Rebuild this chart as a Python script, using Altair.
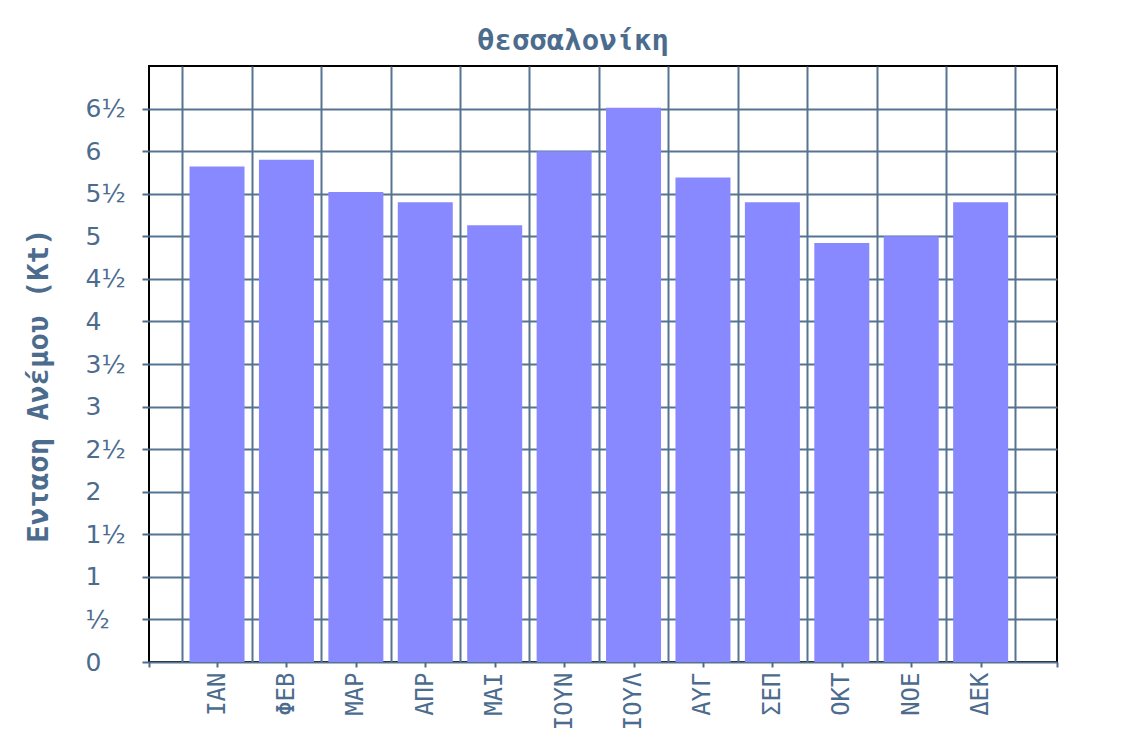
import altair as alt
import pandas as pd

# ---- data ----
months = ["ΙΑΝ", "ΦΕΒ", "ΜΑΡ", "ΑΠΡ", "ΜΑΙ", "ΙΟΥΝ", "ΙΟΥΛ", "ΑΥΓ", "ΣΕΠ", "ΟΚΤ", "ΝΟΕ", "ΔΕΚ"]
positions = list(range(1, 13))
wind_kt = [5.82, 5.90, 5.52, 5.40, 5.13, 6.00, 6.51, 5.69, 5.40, 4.92, 5.00, 5.40]
y_ticks = [0, 0.5, 1, 1.5, 2, 2.5, 3, 3.5, 4, 4.5, 5, 5.5, 6, 6.5]
x_grid = [0.5 + i for i in range(13)]
x_ticks = [0.02] + positions + [13.1]

df = pd.DataFrame({"month": months, "pos": positions, "wind": wind_kt})

STEEL = "#4c6c8e"
GRID = "#56748f"

x_scale = alt.Scale(domain=[0.02, 13.1], nice=False, zero=False, padding=0)
y_scale = alt.Scale(domain=[0, 7], nice=False, zero=True, padding=0)

month_arr = "[" + ",".join("'" + m + "'" for m in months) + "]"
x_label_expr = ("datum.value >= 1 && datum.value <= 12 ? " + month_arr +
                "[round(datum.value) - 1] : ''")
y_label_expr = ("(datum.value >= 1 || datum.value == 0 ? '' + floor(datum.value) : '\u2007')"
                " + (datum.value % 1 != 0 ? '½' : '')")

bars = alt.Chart(df).mark_bar(size=55, color="#8888ff").encode(
    x=alt.X("pos:Q", scale=x_scale,
            axis=alt.Axis(orient="bottom", values=x_ticks, labelExpr=x_label_expr,
                          grid=False, domain=False, ticks=True, tickSize=5, tickWidth=2,
                          tickColor=STEEL, labelAngle=-90, labelPadding=5,
                          labelFont="DejaVu Sans Mono", labelFontSize=24,
                          labelColor=STEEL, title=None, labelOverlap=False)),
    y=alt.Y("wind:Q", scale=y_scale,
            axis=alt.Axis(values=y_ticks, labelExpr=y_label_expr, grid=True,
                          gridColor=GRID, gridWidth=2, gridOpacity=1,
                          domain=False, tickSize=7, tickWidth=2, tickColor=STEEL,
                          labelAlign="left", labelPadding=57, labelBaseline="middle",
                          labelFont="DejaVu Sans", labelFontSize=25, labelColor=STEEL,
                          labelOverlap=False,
                          title="Ενταση Ανέμου (Kt)", titleFont="DejaVu Sans Mono",
                          titleFontSize=29, titleFontWeight="bold", titleColor=STEEL,
                          titleAngle=270, titleAlign="center", titleBaseline="middle",
                          titleX=-111, titleY=319)),
)

grid_layer = alt.Chart(df).mark_point(opacity=0, size=0).encode(
    x=alt.X("pos:Q", scale=x_scale,
            axis=alt.Axis(orient="bottom", values=x_grid, grid=True, gridColor=GRID,
                          gridWidth=2, gridOpacity=1, labels=False, ticks=False,
                          domain=False, title=None)),
)

chart = alt.layer(grid_layer, bars).resolve_scale(x="shared").resolve_axis(
    x="independent"
).properties(
    width=908,
    height=596,
    autosize=alt.AutoSizeParams(type="none"),
    padding={"left": 141, "top": 58, "right": 64, "bottom": 72},
    background="white",
    title=alt.TitleParams("θεσσαλονίκη", font="DejaVu Sans Mono", fontSize=29,
                          fontWeight="bold", color=STEEL, anchor="middle",
                          dx=-30, offset=10),
).configure_view(stroke="black", strokeWidth=2)

chart.save("out.html", embed_options={"renderer": "svg", "actions": False})
